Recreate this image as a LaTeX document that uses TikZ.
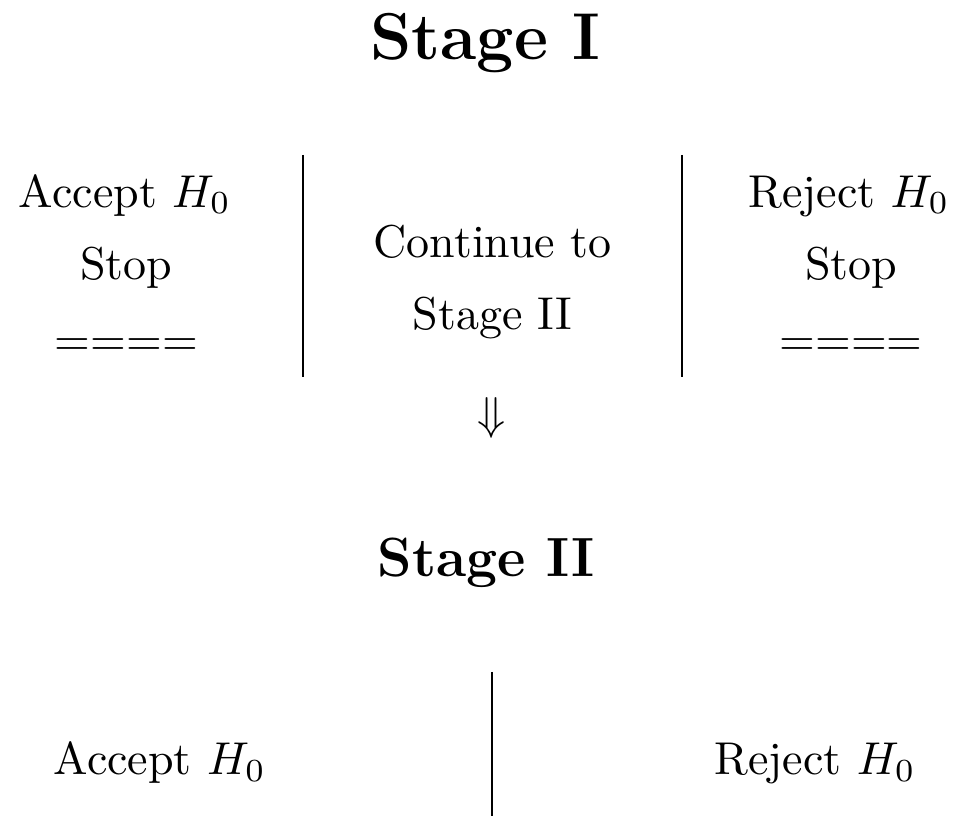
\documentclass[tikz,border=0pt]{standalone}
\usepackage{amsmath}
\usetikzlibrary{positioning}

\begin{document}
\begin{tikzpicture}[
    x=1cm, y=1cm,
    every node/.style={font=\rmfamily, align=center, text=black, inner sep=0pt},
    stageTitle/.style={font=\bfseries\Large, anchor=base},
    subTitle/.style={font=\bfseries\large, anchor=base},
    cell/.style={anchor=base},
    divider/.style={draw=black, line width=0.45pt}
  ]
    \useasboundingbox (0,0) rectangle (7.304,6.265);

    % Stage I
    \node[stageTitle] (stageOne) at (3.709,5.814) {Stage I};

    \node[cell] (acceptOne) at (0.955,4.683) {Accept $H_0$};
    \node[cell] (stopLeft)  at (0.966,4.126) {Stop};
    \node[cell] (eqLeft)    at (0.966,3.549) {====};

    \node[cell] (contOne) at (3.763,4.301) {Continue to};
    \node[cell] (contTwo) at (3.763,3.744) {Stage II};

    \node[cell] (rejectOne) at (6.486,4.683) {Reject $H_0$};
    \node[cell] (stopRight) at (6.505,4.126) {Stop};
    \node[cell] (eqRight)   at (6.502,3.549) {====};

    \coordinate (divLtop) at (2.315,5.081);
    \coordinate (divLbot) at (2.315,3.385);
    \coordinate (divRtop) at (5.210,5.081);
    \coordinate (divRbot) at (5.210,3.385);
    \draw[divider] (divLtop) -- (divLbot);
    \draw[divider] (divRtop) -- (divRbot);

    \node (down) at (3.759,3.075) {$\Downarrow$};

    % Stage II
    \node[subTitle] (stageTwo) at (3.713,1.857) {Stage II};

    \node[cell] (acceptTwo) at (1.222,0.344) {Accept $H_0$};
    \node[cell] (rejectTwo) at (6.227,0.344) {Reject $H_0$};

    \coordinate (divMtop) at (3.759,1.131);
    \coordinate (divMbot) at (3.759,0.031);
    \draw[divider] (divMtop) -- (divMbot);
  \end{tikzpicture}
\end{document}
